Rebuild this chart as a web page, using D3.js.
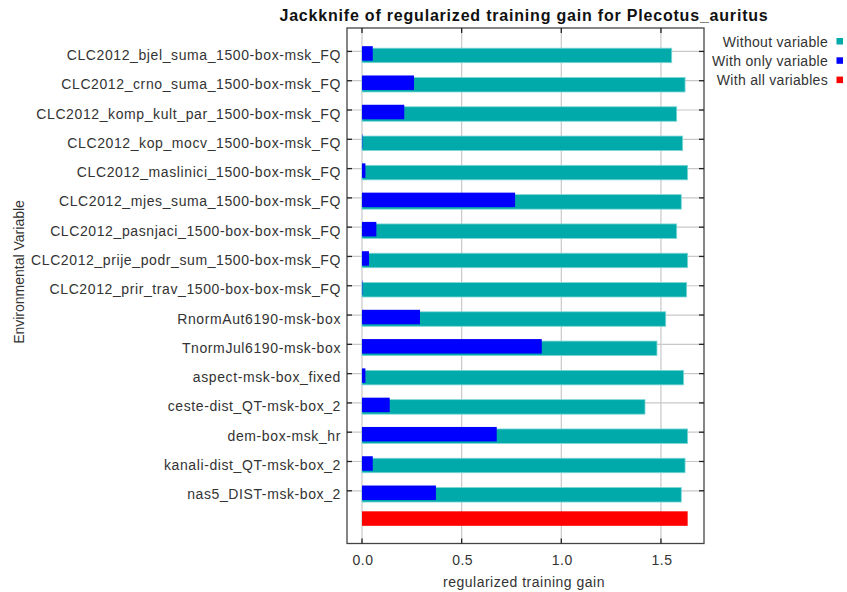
<!DOCTYPE html>
<html><head><meta charset="utf-8">
<script src="https://cdn.jsdelivr.net/npm/d3@7/dist/d3.min.js"></script>
<style>body{margin:0;background:#fff}svg{display:block;font-family:"Liberation Sans",Arial,sans-serif}</style>
</head><body><svg id="c" width="847" height="592"></svg>
<script>
const categories = ["CLC2012_bjel_suma_1500-box-msk_FQ","CLC2012_crno_suma_1500-box-msk_FQ","CLC2012_komp_kult_par_1500-box-msk_FQ","CLC2012_kop_mocv_1500-box-msk_FQ","CLC2012_maslinici_1500-box-msk_FQ","CLC2012_mjes_suma_1500-box-msk_FQ","CLC2012_pasnjaci_1500-box-box-msk_FQ","CLC2012_prije_podr_sum_1500-box-msk_FQ","CLC2012_prir_trav_1500-box-box-msk_FQ","RnormAut6190-msk-box","TnormJul6190-msk-box","aspect-msk-box_fixed","ceste-dist_QT-msk-box_2","dem-box-msk_hr","kanali-dist_QT-msk-box_2","nas5_DIST-msk-box_2"];
const withoutVar = [1.554,1.621,1.579,1.609,1.634,1.602,1.579,1.634,1.629,1.524,1.480,1.614,1.420,1.634,1.621,1.602];
const withOnly   = [0.054,0.261,0.212,0.002,0.017,0.768,0.072,0.035,0.002,0.291,0.902,0.017,0.139,0.676,0.054,0.371];
const withAll = 1.634;
const xTicks = [0,0.5,1.0,1.5];
const xTickLabels = ["0.0","0.5","1.0","1.5"];
const legendLabels = ["Without variable","With only variable","With all variables"];
const colors = ["#00aaaa","#0000ff","#ff0000"];

const svg = d3.select("#c");
const L=347, R=704, T=28, B=543.5;
const x = d3.scaleLinear().domain([-0.0753,1.716]).range([L,R]);
const rows = categories.concat(["__all__"]);
const y = d3.scalePoint().domain(rows).range([T,B]).padding(0.8);
const bh = 14.5;

// gridlines
const g = svg.append("g");
g.selectAll("line.vg").data(xTicks).join("line")
  .attr("x1",d=>x(d)).attr("x2",d=>x(d)).attr("y1",T).attr("y2",B)
  .attr("stroke","#c8c8c8").attr("stroke-width",1.2);
g.selectAll("line.hg").data(categories).join("line")
  .attr("x1",L).attr("x2",R).attr("y1",d=>y(d)).attr("y2",d=>y(d))
  .attr("stroke","#c8c8c8").attr("stroke-width",1.2);

// bars
svg.append("g").selectAll("rect").data(categories).join("rect")
  .attr("x",x(0)).attr("y",d=>y(d)+4-bh/2)
  .attr("width",(d,i)=>x(withoutVar[i])-x(0)).attr("height",bh)
  .attr("fill",colors[0]).attr("stroke","#7fd6d6").attr("stroke-width",0.8);
svg.append("g").selectAll("rect").data(categories).join("rect")
  .attr("x",x(0)).attr("y",d=>y(d)+2-bh/2)
  .attr("width",(d,i)=>x(withOnly[i])-x(0)).attr("height",bh)
  .attr("fill",colors[1]);
svg.append("rect").attr("x",x(0)).attr("y",y("__all__")-1.5-bh/2)
  .attr("width",x(withAll)-x(0)).attr("height",bh).attr("fill",colors[2]);

// frame
svg.append("rect").attr("x",L).attr("y",T).attr("width",R-L).attr("height",B-T)
  .attr("fill","none").attr("stroke","#444").attr("stroke-width",1.3);

// ticks (inward)
const tk = svg.append("g").attr("stroke","#222").attr("stroke-width",1.3);
xTicks.forEach(v=>{
  tk.append("line").attr("x1",x(v)).attr("x2",x(v)).attr("y1",T).attr("y2",T+5);
  tk.append("line").attr("x1",x(v)).attr("x2",x(v)).attr("y1",B).attr("y2",B-5);
});
categories.forEach(c=>{
  tk.append("line").attr("x1",L).attr("x2",L+5).attr("y1",y(c)).attr("y2",y(c));
  tk.append("line").attr("x1",R).attr("x2",R-5).attr("y1",y(c)).attr("y2",y(c));
});

// y labels
svg.append("g").selectAll("text").data(categories).join("text")
  .attr("x",341).attr("y",d=>y(d)+3.5).attr("dy","0.36em").attr("text-anchor","end")
  .attr("font-size",14).attr("letter-spacing",0.6).attr("fill","#333").text(d=>d);

// x labels
svg.append("g").selectAll("text").data(xTicks).join("text")
  .attr("x",d=>x(d)+1).attr("y",565).attr("text-anchor","middle")
  .attr("font-size",14).attr("letter-spacing",0.5).attr("fill","#333").text((d,i)=>xTickLabels[i]);

svg.append("text").attr("x",524).attr("y",587).attr("text-anchor","middle")
  .attr("font-size",14).attr("letter-spacing",0.5).attr("fill","#333").text("regularized training gain");
svg.append("text").attr("transform","translate(24,272) rotate(-90)").attr("text-anchor","middle")
  .attr("font-size",14).attr("fill","#333").text("Environmental Variable");

svg.append("text").attr("x",524).attr("y",21).attr("text-anchor","middle")
  .attr("font-size",16).attr("letter-spacing",0.8).attr("font-weight","bold").attr("fill","#111")
  .text("Jackknife of regularized training gain for Plecotus_auritus");

// legend
const lg = svg.append("g");
legendLabels.forEach((t,i)=>{
  const cy = 41.5 + i*19.3;
  lg.append("text").attr("x",828).attr("y",cy).attr("dy","0.36em").attr("text-anchor","end")
    .attr("font-size",14).attr("letter-spacing",0.3).attr("fill","#333").text(t);
  lg.append("rect").attr("x",836.5).attr("y",cy-3.5).attr("width",6.5).attr("height",6.5).attr("fill",colors[i]);
});
</script></body></html>
